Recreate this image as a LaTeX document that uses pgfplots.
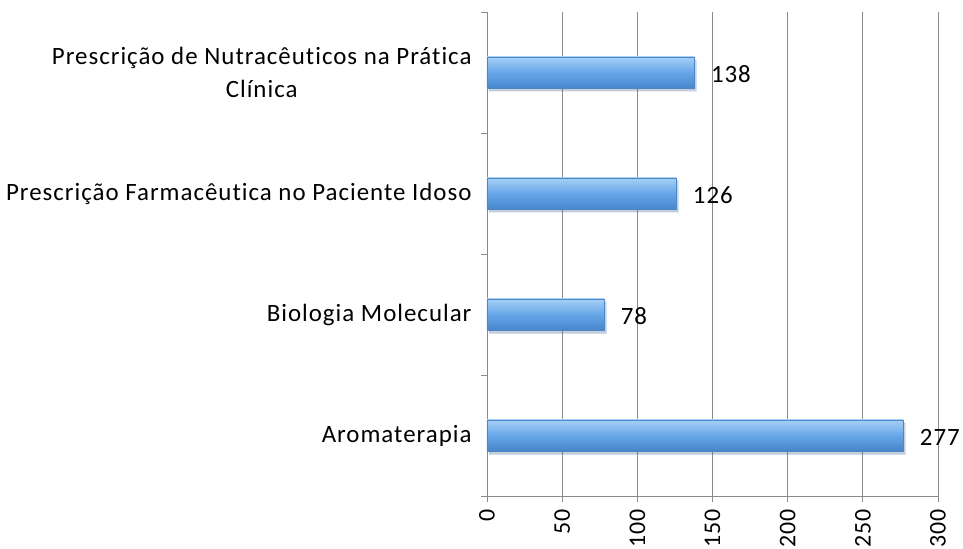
\documentclass[border=0pt]{standalone}
\usepackage{pgfplots}
\pgfplotsset{compat=1.18}
\usepackage{fontspec}
\setmainfont{Carlito}[LetterSpace=4, Ligatures=NoCommon]
\definecolor{gridc}{HTML}{8A8A8A}
\definecolor{barTop}{HTML}{A6D0F6}
\definecolor{barMid}{HTML}{66A6E8}
\definecolor{barBot}{HTML}{4886CC}
\definecolor{barEdge}{HTML}{4F86C6}
\begin{document}
\begin{tikzpicture}
\path[use as bounding box] (-487bp,-53bp) rectangle (476bp,496bp);
\begin{axis}[
  at={(0,0)}, anchor=south west,
  scale only axis, width=451bp, height=484bp,
  xmin=0, xmax=300, ymin=-0.5, ymax=3.5,
  axis x line*=bottom, axis y line*=left,
  axis line style={gridc, line width=0.9pt},
  xtick={0,50,...,300},
  xmajorgrids, grid style={gridc, line width=0.9pt},
  ytick={0,1,2,3},
  yticklabels={Aromaterapia, Biologia Molecular, Prescrição Farmacêutica no Paciente Idoso, {Prescrição de Nutracêuticos na Prática\\Clínica}},
  minor ytick={-0.5,0.5,1.5,2.5,3.5},
  major y tick style={draw=none},
  minor tick length=6bp, major tick length=6bp,
  tick align=outside,
  tick style={gridc, line width=0.9pt},
  yticklabel style={align=center, font=\fontsize{25}{34}\selectfont, xshift=-6bp},
  xticklabel style={rotate=90, anchor=east, font=\fontsize{24}{29}\selectfont},
  xticklabel shift=4bp,
  /pgf/number format/assume math mode=true,
  every node near coord/.append style={font=\fontsize{25}{30}\selectfont, anchor=west, xshift=13bp, yshift=-2bp, black},
  barstyle/.style={xbar, bar width=31bp, bar shift=0pt, draw=barEdge, line width=0.5pt,
    top color=barTop, bottom color=barBot, middle color=barMid,
    preaction={fill=black, opacity=0.15, transform canvas={xshift=2bp, yshift=-3bp}},
    nodes near coords},
]
\addplot[barstyle] coordinates {(277,0)};
\addplot[barstyle] coordinates {(78,1)};
\addplot[barstyle] coordinates {(126,2)};
\addplot[barstyle] coordinates {(138,3)};
\end{axis}
\end{tikzpicture}
\end{document}
